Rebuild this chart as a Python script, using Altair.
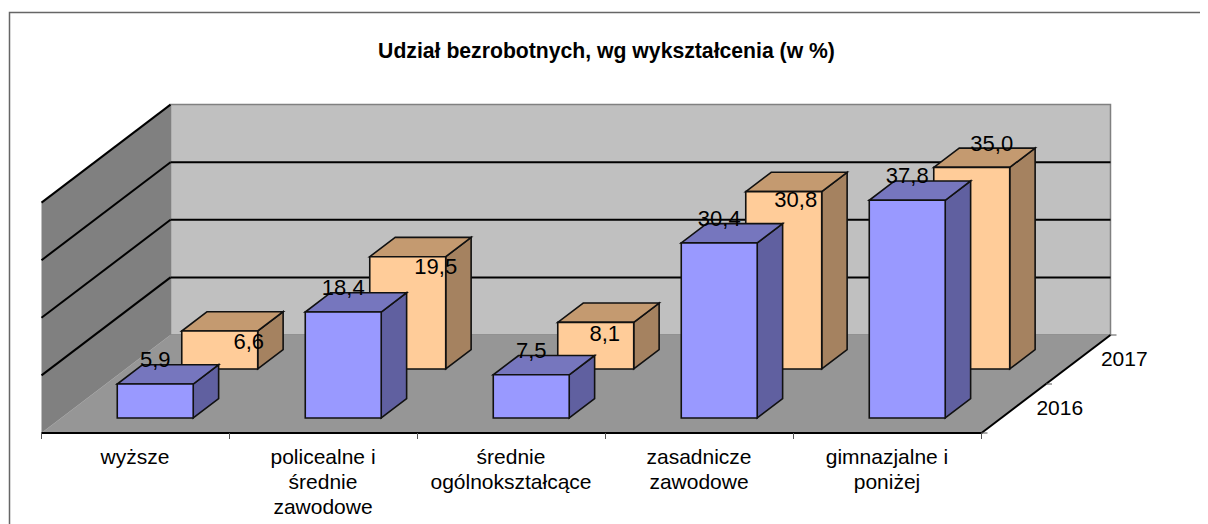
import altair as alt
import pandas as pd

categories = ["wyższe", "policealne i\nśrednie\nzawodowe", "średnie\nogólnokształcące",
              "zasadnicze\nzawodowe", "gimnazjalne i\nponiżej"]
values_2016 = [5.9, 18.4, 7.5, 30.4, 37.8]
values_2017 = [6.6, 19.5, 8.1, 30.8, 35.0]
years = ["2016", "2017"]
grid_values = [10, 20, 30, 40]
title_text = "Udział bezrobotnych, wg wykształcenia (w %)"

# hand placement of the data labels relative to the front face's top centre
label_nudge_2016 = [(0, -24)] * 5
label_nudge_2017 = [(29, 11), (28, 10), (9, 12), (12, 8), (20, -23)]

# oblique projection: category units, depth slots, value -> page pixels
OX, OY, CAT, DX, DY, UNIT = 41.5, 433, 188.0, 64.5, 49, 5.76
def px(c, d):
    return OX + c * CAT + d * DX
def py(d, v):
    return OY - d * DY - v * UNIT

W, H = 1192, 516
sx = alt.Scale(domain=[8, 8 + W], nice=False, zero=False)
sy = alt.Scale(domain=[8 + H, 8], nice=False, zero=False)
X = alt.X("x:Q", scale=sx, axis=None)
Y = alt.Y("y:Q", scale=sy, axis=None)
X2 = alt.X2("x2:Q")
Y2 = alt.Y2("y2:Q")

def side_area(rows, color, stroke=None, sw=1.6):
    kw = dict(color=color, opacity=1, interpolate="linear")
    if stroke:
        kw.update(stroke=stroke, strokeWidth=sw, strokeJoin="miter")
    return alt.Chart(pd.DataFrame(rows)).mark_area(**kw).encode(X, Y, Y2, detail="k:N")

def top_area(rows, color, stroke, sw=1.6):
    return alt.Chart(pd.DataFrame(rows)).mark_area(
        color=color, opacity=1, orient="horizontal", stroke=stroke, strokeWidth=sw, strokeJoin="miter"
    ).encode(X, X2, Y, detail="k:N")

def rules(rows, color, sw):
    return alt.Chart(pd.DataFrame(rows)).mark_rule(color=color, strokeWidth=sw).encode(X, X2, Y, Y2)

def text_layer(rows, size, weight="normal"):
    return alt.Chart(pd.DataFrame(rows)).mark_text(
        font="Liberation Sans", fontSize=size, fontWeight=weight, color="#000000",
        align="center", baseline="middle", lineBreak="\n", lineHeight=25,
    ).encode(X, Y, text="t:N")

n = len(categories)
vmax = grid_values[-1]

# frame: its right and bottom edges lie outside the picture
frame = alt.Chart(pd.DataFrame([{"x": 9.5, "x2": 1240, "y": 12.5, "y2": 560}])).mark_rect(
    fill="#ffffff", stroke="#666666", strokeWidth=1.5).encode(X, X2, Y, Y2)

# walls and floor
left_wall = side_area([
    {"k": 0, "x": px(0, 0), "y": py(0, vmax), "y2": py(0, 0)},
    {"k": 0, "x": px(0, 2), "y": py(2, vmax), "y2": py(2, 0)},
], "#808080")
back_wall = alt.Chart(pd.DataFrame([{"x": px(0, 2), "x2": px(n, 2), "y": py(2, vmax), "y2": py(2, 0)}])).mark_rect(
    fill="#c0c0c0", stroke="#808080", strokeWidth=1.5).encode(X, X2, Y, Y2)
floor = top_area([
    {"k": 0, "y": py(0, 0), "x": px(0, 0), "x2": px(n, 0)},
    {"k": 0, "y": py(2, 0), "x": px(0, 2), "x2": px(n, 2)},
], "#969696", "#969696", 0.5)

# gridlines
grid_rows = []
for v in grid_values:
    grid_rows.append({"x": px(0, 0), "x2": px(0, 2), "y": py(0, v), "y2": py(2, v)})
    if v != vmax:
        grid_rows.append({"x": px(0, 2), "x2": px(n, 2), "y": py(2, v), "y2": py(2, v)})
grid = rules(grid_rows, "#000000", 2)

# axis lines and ticks
axis_rows = [
    {"x": px(0, 0), "x2": px(n, 0), "y": py(0, 0), "y2": py(0, 0)},
    {"x": px(n, 0), "x2": px(n, 2), "y": py(0, 0), "y2": py(2, 0)},
]
axes = rules(axis_rows, "#000000", 2)
tick_rows = [{"x": px(i, 0), "x2": px(i, 0), "y": py(0, 0), "y2": py(0, 0) + 6} for i in range(n + 1)]
tick_rows += [{"x": px(n, d), "x2": px(n, d) + 6, "y": py(d, 0), "y2": py(d, 0)} for d in range(3)]
ticks = rules(tick_rows, "#555555", 1)

# bars
FRONT, BACK, PAD = 0.306, 0.70, 0.298
def bar_layers(values, slot, front_c, top_c, side_c):
    d0, d1 = slot + FRONT, slot + BACK
    side, top, front = [], [], []
    for i, v in enumerate(values):
        xl, xr = i + PAD, i + 1 - PAD
        side += [
            {"k": i, "x": px(xr, d0), "y": py(d0, v), "y2": py(d0, 0)},
            {"k": i, "x": px(xr, d1), "y": py(d1, v), "y2": py(d1, 0)},
        ]
        top += [
            {"k": i, "y": py(d0, v), "x": px(xl, d0), "x2": px(xr, d0)},
            {"k": i, "y": py(d1, v), "x": px(xl, d1), "x2": px(xr, d1)},
        ]
        front.append({"x": px(xl, d0), "x2": px(xr, d0), "y": py(d0, v), "y2": py(d0, 0)})
    front_l = alt.Chart(pd.DataFrame(front)).mark_rect(
        fill=front_c, stroke="#111111", strokeWidth=1.6).encode(X, X2, Y, Y2)
    return [side_area(side, side_c, "#111111"), top_area(top, top_c, "#111111"), front_l]

bars_2017 = bar_layers(values_2017, 1, "#FFCC99", "#C49A70", "#A58260")
bars_2016 = bar_layers(values_2016, 0, "#9999FF", "#7676BE", "#6060A0")

# data labels
def fmt(v):
    return f"{v:.1f}".replace(".", ",")
label_rows = []
for vals, slot, nudge in ((values_2017, 1, label_nudge_2017), (values_2016, 0, label_nudge_2016)):
    for i, v in enumerate(vals):
        label_rows.append({"x": px(i + 0.5, slot + FRONT) + nudge[i][0],
                           "y": py(slot + FRONT, v) + nudge[i][1], "t": fmt(v)})
data_labels = text_layer(label_rows, 22)

# category labels
cat_layers = alt.Chart(pd.DataFrame(
    [{"x": px(i + 0.5, 0) - 0.5, "y": py(0, 0) + 14, "t": c} for i, c in enumerate(categories)]
)).mark_text(font="Liberation Sans", fontSize=21, color="#000000", align="center", baseline="top",
             lineBreak="\n", lineHeight=25).encode(X, Y, text="t:N")

year_labels = text_layer([
    {"x": px(n, s + 0.5) + 46, "y": py(s + 0.5, 0), "t": y} for s, y in enumerate(years)
], 21)

title = text_layer([{"x": 606.5, "y": 52, "t": title_text}], 21.2, "bold")

chart = alt.layer(
    frame, left_wall, back_wall, floor, grid, axes, ticks,
    *bars_2017, *bars_2016,
    data_labels, cat_layers, year_labels, title,
).properties(width=W, height=H, padding=0, autosize=alt.AutoSizeParams(type="none"), background="#ffffff"
).configure_view(stroke=None)

chart.save("out.html", embed_options={"renderer": "svg", "actions": False})
